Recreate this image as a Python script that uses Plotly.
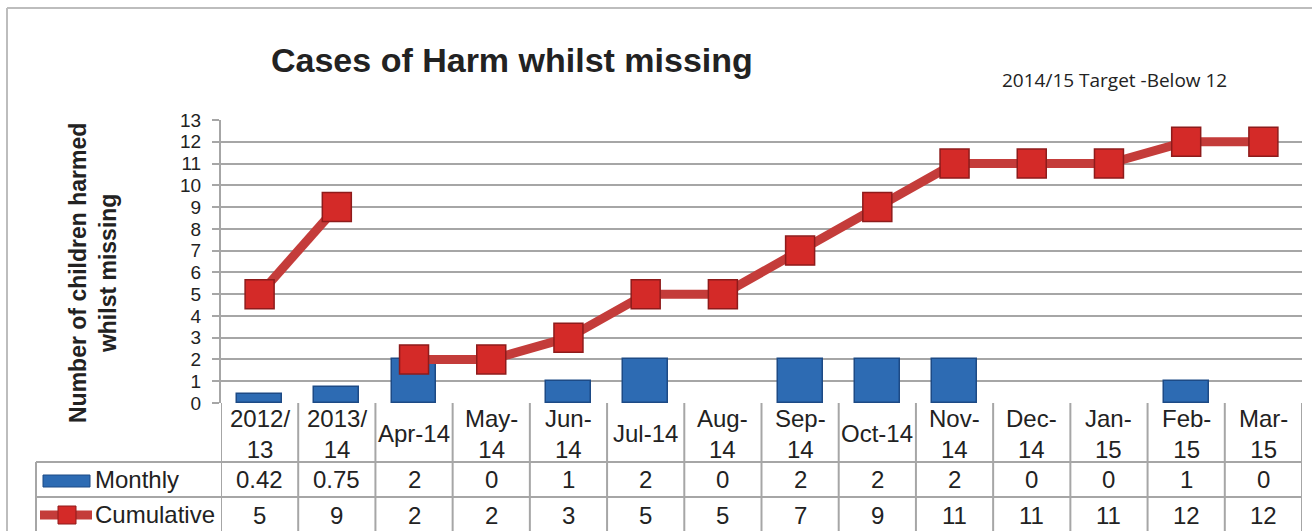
import plotly.graph_objects as go

W, H = 1312, 531

categories = ["2012/<br>13", "2013/<br>14", "Apr-14", "May-<br>14", "Jun-<br>14", "Jul-14", "Aug-<br>14",
              "Sep-<br>14", "Oct-14", "Nov-<br>14", "Dec-<br>14", "Jan-<br>15", "Feb-<br>15", "Mar-<br>15"]
monthly = [0.42, 0.75, 2, 0, 1, 2, 0, 2, 2, 2, 0, 0, 1, 0]
cumulative = [5, 9, 2, 2, 3, 5, 5, 7, 9, 11, 11, 11, 12, 12]
monthly_labels = ["0.42", "0.75", "2", "0", "1", "2", "0", "2", "2", "2", "0", "0", "1", "0"]
cumulative_labels = [str(v) for v in cumulative]

# the line restarts at Apr-14 (new financial year)
break_at = 2

FONT = "Liberation Sans, Arial, sans-serif"
GRID = "#A6A6A6"
BLUE = "#2D6BB3"
BLUE_EDGE = "#1D4A85"
RED_LINE = "#C43C3A"
RED_MARK = "#D42A28"
RED_EDGE = "#8E1B1B"

# plot area in pixels
X0, X1 = 221, 1302
Y_TOP, Y_BOT = 120, 403
ROW1, ROW2, ROW3 = 462, 497, 531


def px(x):
    return x / W


def py(y):
    return 1 - y / H


idx = list(range(len(categories)))

fig = go.Figure()

fig.add_trace(go.Bar(
    x=idx, y=monthly, width=0.58,
    marker=dict(color=BLUE, line=dict(color=BLUE_EDGE, width=[1.5 if v > 0 else 0 for v in monthly])),
    name="Monthly", showlegend=False,
))

for seg in (slice(0, break_at), slice(break_at, None)):
    fig.add_trace(go.Scatter(
        x=idx[seg], y=cumulative[seg], mode="lines+markers",
        line=dict(color=RED_LINE, width=9),
        marker=dict(symbol="square", size=29, color=RED_MARK,
                    line=dict(color=RED_EDGE, width=1.5)),
        name="Cumulative", showlegend=False,
    ))

shapes = []
annotations = []

# outer chart frame (left and top)
shapes.append(dict(type="line", xref="paper", yref="paper", x0=px(7), x1=px(1320),
                   y0=py(8), y1=py(8), line=dict(color="#BDBDBD", width=2)))
shapes.append(dict(type="line", xref="paper", yref="paper", x0=px(7), x1=px(7),
                   y0=py(8), y1=py(540), line=dict(color="#BDBDBD", width=2)))

# data table grid
n = len(categories)
for i in range(n + 1):
    shapes.append(dict(type="line", xref="x", yref="paper", x0=i - 0.5, x1=i - 0.5,
                       y0=py(Y_BOT), y1=py(ROW3 + 5), line=dict(color=GRID, width=2)))
for yy in (ROW1, ROW2):
    shapes.append(dict(type="line", xref="paper", yref="paper", x0=px(36), x1=px(X1),
                       y0=py(yy), y1=py(yy), line=dict(color=GRID, width=2)))
shapes.append(dict(type="line", xref="paper", yref="paper", x0=px(36), x1=px(36),
                   y0=py(ROW1), y1=py(ROW3 + 5), line=dict(color=GRID, width=2)))

# legend keys inside table
shapes.append(dict(type="rect", xref="paper", yref="paper", x0=px(43), x1=px(90),
                   y0=py(487), y1=py(475), fillcolor=BLUE, line=dict(color=BLUE_EDGE, width=1)))
shapes.append(dict(type="line", xref="paper", yref="paper", x0=px(40), x1=px(92),
                   y0=py(515), y1=py(515), line=dict(color=RED_LINE, width=9)))
shapes.append(dict(type="rect", xref="paper", yref="paper", x0=px(58), x1=px(76),
                   y0=py(524), y1=py(506), fillcolor=RED_MARK, line=dict(color=RED_EDGE, width=1)))

TXT = dict(family=FONT, size=24, color="#222")

annotations.append(dict(text="Monthly", xref="paper", yref="paper", x=px(93), y=py((ROW1 + ROW2) / 2),
                        xanchor="left", yanchor="middle", showarrow=False, font=TXT))
annotations.append(dict(text="Cumulative", xref="paper", yref="paper", x=px(93), y=py((ROW2 + ROW3) / 2),
                        xanchor="left", yanchor="middle", showarrow=False, font=TXT))

for i in idx:
    annotations.append(dict(text=categories[i], xref="x", yref="paper", x=i, y=py((Y_BOT + ROW1) / 2 + 1),
                            xanchor="center", yanchor="middle", showarrow=False, font=TXT))
    annotations.append(dict(text=monthly_labels[i], xref="x", yref="paper", x=i, y=py((ROW1 + ROW2) / 2),
                            xanchor="center", yanchor="middle", showarrow=False, font=TXT))
    annotations.append(dict(text=cumulative_labels[i], xref="x", yref="paper", x=i, y=py((ROW2 + ROW3) / 2 + 1),
                            xanchor="center", yanchor="middle", showarrow=False, font=TXT))

# titles
annotations.append(dict(text="<b>Cases of Harm whilst missing</b>", xref="paper", yref="paper",
                        x=px(512), y=py(60), xanchor="center", yanchor="middle", showarrow=False,
                        font=dict(family=FONT, size=34, color="#222")))
annotations.append(dict(text="2014/15 Target -Below 12", xref="paper", yref="paper",
                        x=px(1114), y=py(80), xanchor="center", yanchor="middle", showarrow=False,
                        font=dict(family="Open Sans, sans-serif", size=19, color="#222")))
annotations.append(dict(text="<b>Number of children harmed<br>whilst missing</b>", xref="paper", yref="paper",
                        x=px(93), y=py(273), xanchor="center", yanchor="middle", showarrow=False,
                        textangle=-90, font=dict(family=FONT, size=23, color="#222")))

fig.update_layout(
    width=W, height=H,
    margin=dict(l=0, r=0, t=0, b=0, autoexpand=False),
    paper_bgcolor="white", plot_bgcolor="white",
    bargap=0,
    xaxis=dict(domain=[px(X0), px(X1)], range=[-0.5, n - 0.5], showticklabels=False,
               showgrid=False, zeroline=False, showline=False, ticks="", automargin=False),
    yaxis=dict(domain=[py(Y_BOT), py(Y_TOP)], range=[0, 13], dtick=1, tick0=0,
               showgrid=True, gridcolor=GRID, gridwidth=2, automargin=False,
               showline=True, linecolor=GRID, linewidth=2, zeroline=False,
               ticks="outside", ticklen=7, tickcolor=GRID, tickwidth=2, ticklabelstandoff=7,
               tickfont=dict(family=FONT, size=19, color="#222")),
    shapes=shapes,
    annotations=annotations,
)

fig.write_html("out.html", config={"responsive": False, "displayModeBar": False},
               post_script="document.body.style.margin='0';document.body.style.overflow='hidden';")
